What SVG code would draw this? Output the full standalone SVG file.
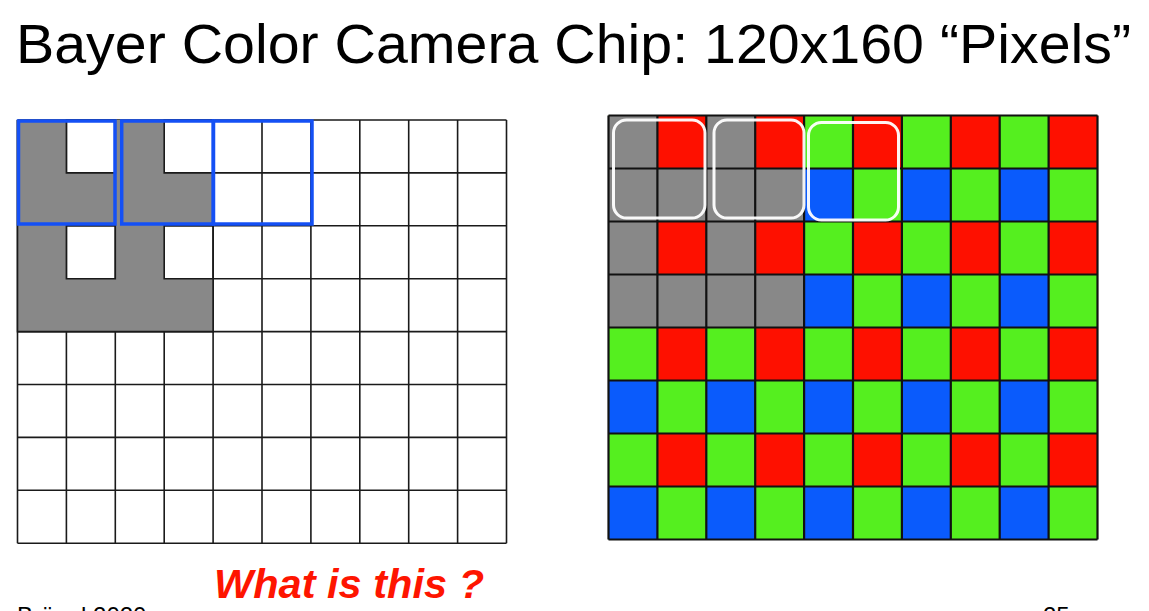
<svg xmlns="http://www.w3.org/2000/svg" width="1149" height="611" viewBox="0 0 1149 611">
<style>
.t{font-family:"Liberation Sans",Arial,sans-serif;fill:#000}
.q{font-family:"Liberation Sans",Arial,sans-serif;font-weight:bold;font-style:italic;fill:#fe1500}
.gl{fill:none;stroke:#1a1a1a;stroke-width:1.6}
.gr{fill:none;stroke:#111;stroke-width:2.2}
.g{fill:#55ef1f}
.r{fill:#fe1000}
.b{fill:#0a5bfc}
.k{fill:#888888}
.bb{fill:none;stroke:#1450f5;stroke-width:3.5}
.wb{fill:none;stroke:#ffffff;stroke-width:3;stroke-opacity:0.95}
</style>
<rect width="1149" height="611" fill="#ffffff"/>
<text id="title" class="t" x="16" y="63" font-size="56" textLength="1115" lengthAdjust="spacingAndGlyphs">Bayer Color Camera Chip: 120x160 “Pixels”</text>

<g id="left-grid">
<path class="gl" d="M17.5 120V543.2M66.4 120V543.2M115.3 120V543.2M164.2 120V543.2M213.1 120V543.2M262 120V543.2M310.9 120V543.2M359.8 120V543.2M408.7 120V543.2M457.6 120V543.2M506.5 120V543.2M17.5 120H506.5M17.5 172.9H506.5M17.5 225.8H506.5M17.5 278.7H506.5M17.5 331.6H506.5M17.5 384.5H506.5M17.5 437.4H506.5M17.5 490.3H506.5M17.5 543.2H506.5"/>
<path class="k" fill-rule="evenodd" d="M17.5 120H213.1V331.6H17.5Z M66.4 120H115.3V172.9H66.4Z M164.2 120H213.1V172.9H164.2Z M66.4 225.8H115.3V278.7H66.4Z M164.2 225.8H213.1V278.7H164.2Z"/>
<path class="gl" d="M66.4 120H115.3V172.9H66.4Z M164.2 120H213.1V172.9H164.2Z M66.4 225.8H115.3V278.7H66.4Z M164.2 225.8H213.1V278.7H164.2Z M17.5 120V331.6H213.1V120"/>
</g>

<g id="left-blue-boxes">
<rect class="bb" x="18.5" y="121" width="96.5" height="103"/>
<rect class="bb" x="121.7" y="121" width="91.5" height="103"/>
<rect class="bb" x="213.5" y="121" width="98.5" height="103"/>
</g>

<g id="right-grid">
<rect class="g" x="608.5" y="115.5" width="489" height="424"/>
<rect class="r" x="657.4" y="115.5" width="48.9" height="53"/>
<rect class="r" x="755.2" y="115.5" width="48.9" height="53"/>
<rect class="r" x="853" y="115.5" width="48.9" height="53"/>
<rect class="r" x="950.8" y="115.5" width="48.9" height="53"/>
<rect class="r" x="1048.6" y="115.5" width="48.9" height="53"/>
<rect class="r" x="657.4" y="221.5" width="48.9" height="53"/>
<rect class="r" x="755.2" y="221.5" width="48.9" height="53"/>
<rect class="r" x="853" y="221.5" width="48.9" height="53"/>
<rect class="r" x="950.8" y="221.5" width="48.9" height="53"/>
<rect class="r" x="1048.6" y="221.5" width="48.9" height="53"/>
<rect class="r" x="657.4" y="327.5" width="48.9" height="53"/>
<rect class="r" x="755.2" y="327.5" width="48.9" height="53"/>
<rect class="r" x="853" y="327.5" width="48.9" height="53"/>
<rect class="r" x="950.8" y="327.5" width="48.9" height="53"/>
<rect class="r" x="1048.6" y="327.5" width="48.9" height="53"/>
<rect class="r" x="657.4" y="433.5" width="48.9" height="53"/>
<rect class="r" x="755.2" y="433.5" width="48.9" height="53"/>
<rect class="r" x="853" y="433.5" width="48.9" height="53"/>
<rect class="r" x="950.8" y="433.5" width="48.9" height="53"/>
<rect class="r" x="1048.6" y="433.5" width="48.9" height="53"/>
<rect class="b" x="608.5" y="168.5" width="48.9" height="53"/>
<rect class="b" x="706.3" y="168.5" width="48.9" height="53"/>
<rect class="b" x="804.1" y="168.5" width="48.9" height="53"/>
<rect class="b" x="901.9" y="168.5" width="48.9" height="53"/>
<rect class="b" x="999.7" y="168.5" width="48.9" height="53"/>
<rect class="b" x="608.5" y="274.5" width="48.9" height="53"/>
<rect class="b" x="706.3" y="274.5" width="48.9" height="53"/>
<rect class="b" x="804.1" y="274.5" width="48.9" height="53"/>
<rect class="b" x="901.9" y="274.5" width="48.9" height="53"/>
<rect class="b" x="999.7" y="274.5" width="48.9" height="53"/>
<rect class="b" x="608.5" y="380.5" width="48.9" height="53"/>
<rect class="b" x="706.3" y="380.5" width="48.9" height="53"/>
<rect class="b" x="804.1" y="380.5" width="48.9" height="53"/>
<rect class="b" x="901.9" y="380.5" width="48.9" height="53"/>
<rect class="b" x="999.7" y="380.5" width="48.9" height="53"/>
<rect class="b" x="608.5" y="486.5" width="48.9" height="53"/>
<rect class="b" x="706.3" y="486.5" width="48.9" height="53"/>
<rect class="b" x="804.1" y="486.5" width="48.9" height="53"/>
<rect class="b" x="901.9" y="486.5" width="48.9" height="53"/>
<rect class="b" x="999.7" y="486.5" width="48.9" height="53"/>
<rect class="k" x="608.5" y="115.5" width="48.9" height="53"/>
<rect class="k" x="706.3" y="115.5" width="48.9" height="53"/>
<rect class="k" x="608.5" y="168.5" width="195.6" height="53"/>
<rect class="k" x="608.5" y="221.5" width="48.9" height="53"/>
<rect class="k" x="706.3" y="221.5" width="48.9" height="53"/>
<rect class="k" x="608.5" y="274.5" width="195.6" height="53"/>
<path class="gr" d="M608.5 115.5V539.5M657.4 115.5V539.5M706.3 115.5V539.5M755.2 115.5V539.5M804.1 115.5V539.5M853 115.5V539.5M901.9 115.5V539.5M950.8 115.5V539.5M999.7 115.5V539.5M1048.6 115.5V539.5M1097.5 115.5V539.5M608.5 115.5H1097.5M608.5 168.5H1097.5M608.5 221.5H1097.5M608.5 274.5H1097.5M608.5 327.5H1097.5M608.5 380.5H1097.5M608.5 433.5H1097.5M608.5 486.5H1097.5M608.5 539.5H1097.5"/>
</g>

<g id="right-white-boxes">
<rect class="wb" x="613.5" y="120" width="91.5" height="98" rx="13"/>
<rect class="wb" x="714" y="120" width="90" height="98" rx="13"/>
<rect class="wb" x="808.5" y="122.5" width="90" height="97.5" rx="13"/>
</g>

<text id="question" class="q" x="214" y="598" font-size="40" textLength="270" lengthAdjust="spacingAndGlyphs">What is this ?</text>
<text id="footer-left" class="t" x="17" y="624" font-size="24">Bräunl 2020</text>
<text id="footer-right" class="t" x="1043" y="624" font-size="24">25</text>
</svg>
